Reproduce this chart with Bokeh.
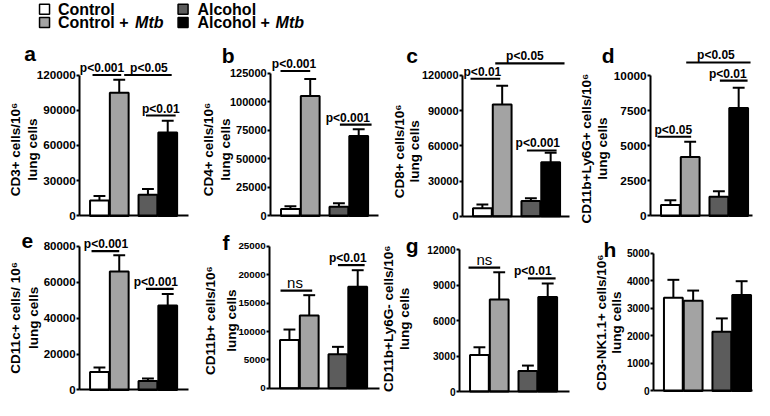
import math
from bokeh.plotting import figure
from bokeh.models import Range1d, FixedTicker, LinearAxis, BasicTickFormatter
from bokeh.core.properties import value
from bokeh.embed import file_html
from bokeh.resources import INLINE

FONT = "Liberation Sans"

# ---------------- data ----------------
groups = ["Control", "Control + ", "Alcohol", "Alcohol + "]
group_italic = ["", "Mtb", "", "Mtb"]
colors = ["#ffffff", "#a3a3a3", "#5c5c5c", "#000000"]
bar_x = [1.0, 2.0, 3.45, 4.45]

letters = ["a", "b", "c", "d", "e", "f", "g", "h"]
y_titles = ["CD3+ cells/10\u2076", "CD4+ cells/10\u2076", "CD8+ cells/10\u2076",
            "CD11b+Ly6G+ cells/10\u2076", "CD11c+ cells/ 10\u2076", "CD11b+ cells/10\u2076",
            "CD11b+Ly6G- cells/10\u2076", "CD3-NK1.1+ cells/10\u2076"]
y_sub = "lung cells"

means_a = [13000, 105000, 18000, 71000]
errs_a = [4000, 11000, 5000, 10000]
means_b = [6000, 105000, 8000, 70000]
errs_b = [2500, 15000, 3000, 6000]
means_c = [7000, 95000, 13000, 46000]
errs_c = [3000, 16000, 2500, 8000]
means_d = [780, 4200, 1370, 7700]
errs_d = [340, 1100, 390, 1450]
means_e = [10000, 66000, 5000, 47000]
errs_e = [2500, 9000, 1300, 6500]
means_f = [8500, 12800, 6000, 17900]
errs_f = [1850, 3600, 1300, 2900]
means_g = [3100, 7800, 1750, 8000]
errs_g = [650, 2300, 450, 1150]
means_h = [3380, 3270, 2150, 3480]
errs_h = [650, 370, 480, 500]

ticks_a = [0, 30000, 60000, 90000, 120000]
ticks_b = [0, 25000, 50000, 75000, 100000, 125000]
ticks_c = [0, 30000, 60000, 90000, 120000]
ticks_d = [0, 2500, 5000, 7500, 10000]
ticks_e = [0, 20000, 40000, 60000, 80000]
ticks_f = [0, 5000, 10000, 15000, 20000, 25000]
ticks_g = [0, 3000, 6000, 9000, 12000]
ticks_h = [0, 1000, 2000, 3000, 4000, 5000]

# significance bars: (x start, x end, y, label, label x) in bar-position units
sig_a = [(0.65, 2.1, 120000, "p<0.001", 1.13), (2.25, 4.65, 120000, "p<0.05", 3.5),
         (3.35, 4.85, 85500, "p<0.01", 4.1)]
sig_b = [(0.5, 2.0, 127000, "p<0.001", 1.18), (3.5, 5.1, 80000, "p<0.001", 3.9)]
sig_c = [(0.4, 1.9, 117000, "p<0.01", 1.0), (1.65, 5.15, 130000, "p<0.05", 3.15),
         (3.25, 4.75, 56000, "p<0.001", 3.8)]
sig_d = [(0.35, 2.05, 5650, "p<0.05", 1.15), (1.8, 5.05, 10950, "p<0.05", 3.3),
         (3.5, 4.9, 9650, "p<0.01", 3.9)]
sig_e = [(0.6, 2.0, 77300, "p<0.001", 1.33), (3.35, 4.75, 56300, "p<0.001", 3.85)]
sig_f = [(0.55, 2.15, 17200, "ns", 1.28), (3.45, 4.8, 21700, "p<0.01", 3.95)]
sig_g = [(0.45, 2.05, 10500, "ns", 1.25), (3.45, 4.85, 9580, "p<0.01", 3.7)]
sig_h = []

means = [means_a, means_b, means_c, means_d, means_e, means_f, means_g, means_h]
errs = [errs_a, errs_b, errs_c, errs_d, errs_e, errs_f, errs_g, errs_h]
ticks = [ticks_a, ticks_b, ticks_c, ticks_d, ticks_e, ticks_f, ticks_g, ticks_h]
sigs = [sig_a, sig_b, sig_c, sig_d, sig_e, sig_f, sig_g, sig_h]

# ---------------- layout (reference pixels, scaled to canvas) ----------------
W, H = 754, 400
SX = W / 762.0
SY = H / 416.0
PXU = 20.0 * SX          # canvas pixels per bar-position unit
P_GAP = 7                # px between significance line and p-text baseline
NS_GAP = 8


def cx(rx):
    return rx * SX


def cy(ry):
    return H - ry * SY


axis_x = [80, 273, 467, 657, 80, 272, 464, 660]
zero_y = [224, 224, 224.5, 224, 405, 403.3, 406.7, 406]
top_y = [77.5, 75.7, 77.7, 78.3, 255.7, 255.7, 259.3, 262.7]
right_x = [190, 382, 575, 760, 190, 383, 575, 760]
tick_font = ["11.7px", "11px", "11px", "11.8px", "11.5px", "9.8px", "10.2px", "10.2px"]
letter_pos = [(30, 55), (230, 57), (416, 57), (614, 57), (27, 250), (228, 252), (416, 255), (616, 259)]
ylab_x1 = [15, 210, 403, 592, 15, 212, 392, 607]
ylab_x2 = [32, 227, 418, 608, 33, 233, 408, 623]
ylab_y = [155, 155, 157, 154, 330, 333, 331, 335]
leg_sq = [(44.5, 9), (44.5, 23), (184.5, 9), (184.5, 23)]
leg_tx = [58, 58, 199, 199]
leg_it = [0, 136, 0, 278]

p = figure(width=W, height=H, x_range=Range1d(0, W), y_range=Range1d(0, H),
           x_axis_type=None, y_axis_type=None, min_border=0,
           toolbar_location=None, output_backend="svg")
p.xgrid.visible = False
p.ygrid.visible = False
p.outline_line_color = None
p.background_fill_color = "white"
p.border_fill_color = "white"

for i in range(8):
    T = ticks[i][-1]
    ax = cx(axis_x[i])
    zb = cy(zero_y[i])                      # canvas y (from bottom) of zero
    span = (zero_y[i] - top_y[i]) * SY      # pixels from 0 to top tick
    u = T / span                            # data units per pixel
    xr, yr = f"x{i}", f"y{i}"
    p.extra_x_ranges[xr] = Range1d(-ax / PXU, (W - ax) / PXU)
    p.extra_y_ranges[yr] = Range1d(-zb * u, (H - zb) * u)
    xend = (right_x[i] - axis_x[i]) / 20.0

    ya = LinearAxis(x_range_name=xr, y_range_name=yr, fixed_location=0, bounds=(0, T),
                    ticker=FixedTicker(ticks=ticks[i]),
                    formatter=BasicTickFormatter(use_scientific=False))
    ya.major_label_text_font = FONT
    ya.major_label_text_font_style = "bold"
    ya.major_label_text_font_size = tick_font[i]
    ya.major_label_text_color = "black"
    ya.major_tick_out = 3
    ya.major_tick_in = 0
    ya.minor_tick_out = 0
    ya.minor_tick_in = 0
    ya.major_label_standoff = 1
    ya.axis_line_width = 2
    ya.major_tick_line_width = 2
    p.add_layout(ya, "left")

    xa = LinearAxis(x_range_name=xr, y_range_name=yr, fixed_location=0, bounds=(0, xend),
                    ticker=FixedTicker(ticks=[]))
    xa.major_tick_out = 0
    xa.major_tick_in = 0
    xa.minor_tick_out = 0
    xa.minor_tick_in = 0
    xa.major_label_text_font_size = "0px"
    xa.axis_line_width = 2
    p.add_layout(xa, "below")

    m = means[i]
    e = errs[i]
    tops = [a + b for a, b in zip(m, e)]
    kw = dict(x_range_name=xr, y_range_name=yr)
    p.segment(x0=bar_x, y0=m, x1=bar_x, y1=tops, line_color="black", line_width=2, **kw)
    p.segment(x0=[x - 0.3 for x in bar_x], y0=tops, x1=[x + 0.3 for x in bar_x], y1=tops,
              line_color="black", line_width=2, **kw)
    p.vbar(x=bar_x, top=m, bottom=0, width=0.95, fill_color=colors,
           line_color="black", line_width=2, **kw)

    s = sigs[i]
    if s:
        p.segment(x0=[t[0] for t in s], y0=[t[2] for t in s], x1=[t[1] for t in s],
                  y1=[t[2] for t in s], line_color="black", line_width=2.2, **kw)
        ps = [t for t in s if t[3] != "ns"]
        ns = [t for t in s if t[3] == "ns"]
        if ps:
            p.text(x=[t[4] for t in ps], y=[t[2] + P_GAP * u for t in ps], text=[t[3] for t in ps],
                   text_font=value(FONT), text_font_style="bold", text_font_size="12px",
                   text_align="center", text_baseline="alphabetic", text_color="black", **kw)
        if ns:
            p.text(x=[t[4] for t in ns], y=[t[2] + NS_GAP * u for t in ns], text=[t[3] for t in ns],
                   text_font=value(FONT), text_font_size="15px",
                   text_align="center", text_baseline="alphabetic", text_color="black", **kw)

# panel letters
p.text(x=[cx(t[0]) for t in letter_pos], y=[cy(t[1]) for t in letter_pos], text=letters,
       text_font=value(FONT), text_font_style="bold", text_font_size="21px",
       text_align="center", text_baseline="alphabetic", text_color="black")
# y-axis titles (two lines each)
p.text(x=[cx(v) for v in ylab_x1], y=[cy(v) for v in ylab_y], text=y_titles, angle=math.pi / 2,
       text_font=value(FONT), text_font_style="bold", text_font_size="13.5px",
       text_align="center", text_baseline="middle", text_color="black")
p.text(x=[cx(v) for v in ylab_x2], y=[cy(v) for v in ylab_y], text=[y_sub] * 8, angle=math.pi / 2,
       text_font=value(FONT), text_font_style="bold", text_font_size="13.5px",
       text_align="center", text_baseline="middle", text_color="black")

# legend
p.scatter(x=[cx(t[0]) for t in leg_sq], y=[cy(t[1]) for t in leg_sq], marker="square", size=10,
          fill_color=colors, line_color="black", line_width=1.5)
p.text(x=[cx(v) for v in leg_tx], y=[cy(t[1]) for t in leg_sq], text=groups,
       text_font=value(FONT), text_font_style="bold", text_font_size="16px",
       text_baseline="middle", text_align="left", text_color="black")
p.text(x=[cx(leg_it[1]), cx(leg_it[3])], y=[cy(leg_sq[1][1]), cy(leg_sq[3][1])],
       text=[group_italic[1], group_italic[3]],
       text_font=value(FONT), text_font_style="bold italic", text_font_size="16px",
       text_baseline="middle", text_align="left", text_color="black")

open("out.html", "w").write(file_html(p, INLINE))
